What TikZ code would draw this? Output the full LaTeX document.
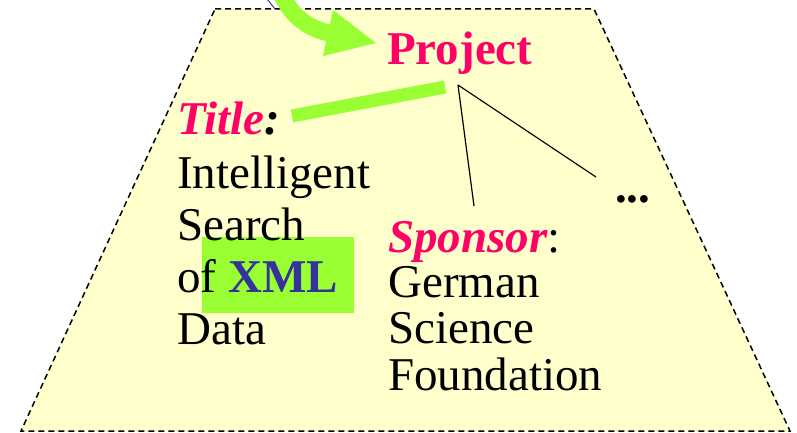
\documentclass[tikz,border=0pt]{standalone}
\usepackage{fontspec}
\setmainfont{Liberation Serif}
\definecolor{paper}{HTML}{FFFFCC}
\definecolor{hot}{HTML}{FF0066}
\definecolor{lime}{HTML}{99FF33}
\definecolor{navy}{HTML}{333399}
\begin{document}
\begin{tikzpicture}[x=1pt,y=-1pt,
  txt/.style={inner sep=0pt, anchor=base west, align=left, font=\fontsize{47}{52}\selectfont},
  txtnarrow/.style={txt, font=\fontsize{47}{46.5}\selectfont},
  link/.style={draw=lime, line width=13pt, line cap=butt},
  tree/.style={draw=black, line width=1.2pt}]
\useasboundingbox (0,0) rectangle (797,433);

% dashed trapezoid panel
\filldraw[fill=paper, draw=black, line width=1.5pt, dash pattern=on 6pt off 4pt]
  (215,9) -- (594,9) -- (790,431) -- (21,431) -- cycle;

% highlight behind XML
\fill[lime] (202,237) rectangle (354,313);

% texts (multi-line nodes sit on the baseline of their last line)
\node[txt] (project) at (387,65) {\bfseries\color{hot}Project};
\node[txt] (title) at (177,134) {\bfseries\itshape\color{hot}Title\color{black}:};
\node[txt] (titlebody) at (177,344) {Intelligent\\Search\\of {\bfseries\color{navy}XML}\\Data};
\node[txt] (sponsor) at (388,252) {{\bfseries\itshape\color{hot}Sponsor}:};
\node[txtnarrow] (sponsorbody) at (388,390) {German\\Science\\Foundation};
\node[txt] (more) at (615,202) {\bfseries ...};

% tree edges from the project node
\coordinate (fork) at (458,85);
\coordinate (sptop) at (474,206);
\coordinate (moretop) at (596,177);
\draw[tree] (fork) -- (sptop);
\draw[tree] (fork) -- (moretop);

% green link from the title to the project
\coordinate (tl) at (292,116);
\coordinate (pr) at (445,87);
\draw[link] (tl) -- (pr);

% incoming green arrow
\draw[navy, line width=1pt] (267,-1) -- (275,9);
\draw[lime, line width=17pt, line cap=butt]
  (279,-10) .. controls (291,15) and (305,28) .. (331,33.5);
\fill[lime] (333,10) -- (376,43) -- (323,56) -- cycle;
\end{tikzpicture}
\end{document}
